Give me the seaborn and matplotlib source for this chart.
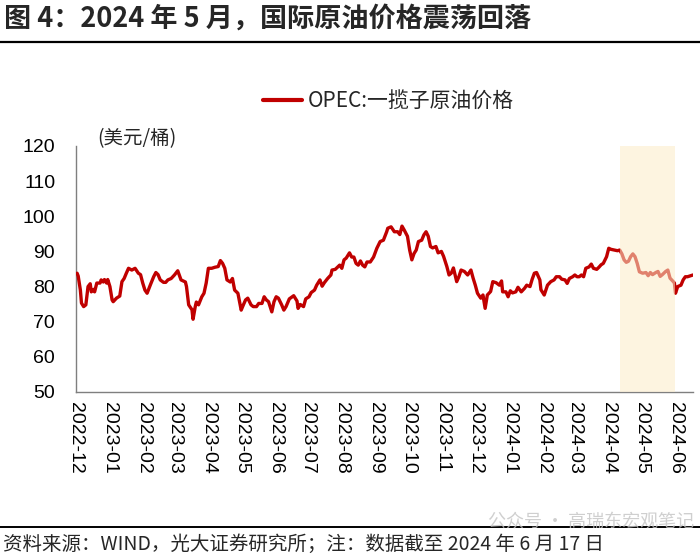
import matplotlib
matplotlib.use("Agg")
import matplotlib.pyplot as plt
from matplotlib.lines import Line2D
import seaborn as sns
import pandas as pd

# ---------------- data ----------------
dates = [
    "2022-12-02", "2022-12-03", "2022-12-05", "2022-12-06", "2022-12-08", "2022-12-10",
    "2022-12-12", "2022-12-14", "2022-12-15", "2022-12-17", "2022-12-18", "2022-12-20",
    "2022-12-23", "2022-12-24", "2022-12-26", "2022-12-27", "2022-12-29", "2022-12-30",
    "2023-01-01", "2023-01-03", "2023-01-04", "2023-01-07", "2023-01-10", "2023-01-12",
    "2023-01-14", "2023-01-16", "2023-01-18", "2023-01-21", "2023-01-24", "2023-01-27",
    "2023-01-29", "2023-01-31", "2023-02-02", "2023-02-04", "2023-02-07", "2023-02-10",
    "2023-02-12", "2023-02-14", "2023-02-16", "2023-02-19", "2023-02-21", "2023-02-23",
    "2023-02-26", "2023-03-01", "2023-03-04", "2023-03-07", "2023-03-11", "2023-03-12",
    "2023-03-14", "2023-03-17", "2023-03-18", "2023-03-20", "2023-03-21", "2023-03-23",
    "2023-03-26", "2023-03-28", "2023-03-30", "2023-04-01", "2023-04-04", "2023-04-07",
    "2023-04-10", "2023-04-12", "2023-04-14", "2023-04-16", "2023-04-18", "2023-04-21",
    "2023-04-23", "2023-04-25", "2023-04-28", "2023-05-01", "2023-05-03", "2023-05-05",
    "2023-05-07", "2023-05-10", "2023-05-12", "2023-05-15", "2023-05-17", "2023-05-20",
    "2023-05-22", "2023-05-24", "2023-05-26", "2023-05-29", "2023-05-31", "2023-06-02",
    "2023-06-04", "2023-06-07", "2023-06-09", "2023-06-11", "2023-06-14", "2023-06-18",
    "2023-06-21", "2023-06-22", "2023-06-24", "2023-06-27", "2023-06-29", "2023-07-02",
    "2023-07-04", "2023-07-07", "2023-07-09", "2023-07-12", "2023-07-14", "2023-07-16",
    "2023-07-19", "2023-07-22", "2023-07-23", "2023-07-26", "2023-07-28", "2023-07-30",
    "2023-08-01", "2023-08-03", "2023-08-05", "2023-08-08", "2023-08-10", "2023-08-12",
    "2023-08-14", "2023-08-16", "2023-08-18", "2023-08-20", "2023-08-22", "2023-08-24",
    "2023-08-27", "2023-08-30", "2023-09-02", "2023-09-05", "2023-09-08", "2023-09-11",
    "2023-09-12", "2023-09-15", "2023-09-18", "2023-09-21", "2023-09-23", "2023-09-25",
    "2023-09-27", "2023-09-30", "2023-10-02", "2023-10-04", "2023-10-06", "2023-10-08",
    "2023-10-10", "2023-10-13", "2023-10-15", "2023-10-17", "2023-10-19", "2023-10-21",
    "2023-10-23", "2023-10-26", "2023-10-28", "2023-10-31", "2023-11-02", "2023-11-05",
    "2023-11-07", "2023-11-09", "2023-11-11", "2023-11-14", "2023-11-16", "2023-11-18",
    "2023-11-21", "2023-11-24", "2023-11-27", "2023-11-29", "2023-12-01", "2023-12-03",
    "2023-12-06", "2023-12-08", "2023-12-10", "2023-12-12", "2023-12-15", "2023-12-17",
    "2023-12-20", "2023-12-23", "2023-12-25", "2023-12-26", "2023-12-29", "2023-12-31",
    "2024-01-02", "2024-01-04", "2024-01-07", "2024-01-09", "2024-01-12", "2024-01-15",
    "2024-01-17", "2024-01-20", "2024-01-22", "2024-01-24", "2024-01-26", "2024-01-29",
    "2024-01-30", "2024-02-02", "2024-02-05", "2024-02-08", "2024-02-11", "2024-02-13",
    "2024-02-16", "2024-02-18", "2024-02-21", "2024-02-23", "2024-02-25", "2024-02-28",
    "2024-03-01", "2024-03-03", "2024-03-05", "2024-03-07", "2024-03-09", "2024-03-11",
    "2024-03-14", "2024-03-16", "2024-03-18", "2024-03-21", "2024-03-23", "2024-03-25",
    "2024-03-27", "2024-03-30", "2024-04-01", "2024-04-03", "2024-04-06", "2024-04-09",
    "2024-04-11", "2024-04-13", "2024-04-15", "2024-04-17", "2024-04-19", "2024-04-21",
    "2024-04-23", "2024-04-25", "2024-04-27", "2024-04-29", "2024-05-02", "2024-05-05",
    "2024-05-07", "2024-05-09", "2024-05-11", "2024-05-14", "2024-05-16", "2024-05-18",
    "2024-05-20", "2024-05-23", "2024-05-25", "2024-05-27", "2024-05-30", "2024-05-31",
    "2024-06-01", "2024-06-03", "2024-06-06", "2024-06-08", "2024-06-10", "2024-06-12",
    "2024-06-15", "2024-06-17",
]

opec_basket = [
    83.8, 83.0, 79.0, 75.3, 74.3, 74.8,
    80.0, 80.8, 78.5, 79.2, 78.5, 81.0,
    81.0, 81.9, 81.3, 82.0, 81.0, 82.0,
    80.0, 76.2, 75.7, 76.7, 77.3, 81.4,
    82.3, 83.8, 85.2, 84.7, 85.2, 83.8,
    83.4, 81.0, 79.0, 78.1, 80.5, 82.8,
    84.0, 83.4, 81.9, 81.2, 81.2, 81.9,
    82.3, 83.3, 84.5, 81.9, 81.3, 80.0,
    74.8, 73.4, 70.7, 74.3, 75.6, 74.8,
    77.1, 78.1, 81.0, 85.2, 85.2, 85.5,
    85.7, 87.4, 86.6, 85.2, 81.9, 81.3,
    82.3, 79.0, 78.1, 73.3, 74.8, 76.2,
    76.7, 74.8, 74.3, 74.3, 75.2, 75.2,
    77.1, 76.2, 75.7, 72.8, 75.7, 77.1,
    76.7, 74.8, 73.3, 74.3, 76.5, 77.4,
    75.9, 73.8, 74.9, 74.3, 76.5, 77.1,
    78.3, 79.0, 80.4, 81.9, 80.1, 81.1,
    82.3, 83.3, 84.7, 84.9, 85.5, 86.1,
    85.2, 87.6, 88.1, 89.6, 88.4, 88.4,
    86.6, 86.1, 87.3, 86.1, 85.6, 87.0,
    87.0, 88.4, 90.9, 92.8, 93.2, 95.6,
    96.6, 97.0, 95.6, 95.6, 94.8, 97.2,
    96.1, 94.3, 90.4, 87.6, 89.4, 90.4,
    92.8, 93.2, 94.7, 95.6, 94.3, 91.4,
    91.0, 91.4, 89.6, 90.0, 88.6, 85.7,
    83.3, 83.8, 85.3, 81.4, 82.8, 84.7,
    84.3, 83.3, 84.7, 82.4, 80.4, 78.1,
    76.7, 77.6, 73.8, 77.6, 78.6, 81.4,
    81.1, 80.4, 81.6, 78.5, 78.5, 77.1,
    78.8, 78.2, 78.5, 79.8, 78.5, 79.5,
    80.4, 80.0, 82.1, 83.8, 84.0, 81.9,
    79.1, 77.6, 80.4, 81.4, 81.9, 82.8,
    82.8, 82.1, 81.9, 80.9, 82.3, 82.8,
    83.3, 82.8, 82.8, 83.3, 82.8, 85.2,
    85.6, 86.4, 85.2, 84.9, 85.5, 86.2,
    86.6, 88.5, 90.9, 90.6, 90.4, 90.2,
    90.4, 89.3, 87.6, 86.9, 87.2, 88.5,
    89.3, 88.5, 86.6, 84.2, 83.8, 84.0,
    83.1, 84.0, 83.4, 84.0, 84.3, 82.9,
    83.4, 84.3, 84.7, 82.4, 81.4, 81.0,
    78.1, 80.0, 80.4, 81.9, 82.8, 82.8,
    83.1, 83.3,
]

tick_months = ["2022-12", "2023-01", "2023-02", "2023-03", "2023-04", "2023-05",
               "2023-06", "2023-07", "2023-08", "2023-09", "2023-10", "2023-11",
               "2023-12", "2024-01", "2024-02", "2024-03", "2024-04", "2024-05",
               "2024-06"]
y_ticks = [50, 60, 70, 80, 90, 100, 110, 120]
x_range = ["2022-12-01", "2024-06-17"]
shade_range = ["2024-04-11", "2024-06-01"]

series_label = "OPEC:一揽子原油价格"
title = "图 4：2024 年 5 月，国际原油价格震荡回落"
unit = "(美元/桶)"
source = "资料来源：WIND，光大证券研究所；注：数据截至 2024 年 6 月 17 日"
watermark = "公众号 · 高瑞东宏观笔记"

# ---------------- drawing ----------------
sns.set_theme(style="white")
plt.rcParams["font.family"] = ["Noto Sans CJK SC", "DejaVu Sans"]
plt.rcParams["axes.unicode_minus"] = False

W, H = 700, 557
fig = plt.figure(figsize=(W / 100, H / 100), dpi=100)
fig.patch.set_facecolor("white")
ax = fig.add_axes([76 / W, 1 - 392 / H, 617 / W, 246 / H])
ax.set_facecolor("white")

df = pd.DataFrame({"date": pd.to_datetime(dates), "price": opec_basket})
sns.lineplot(data=df, x="date", y="price", ax=ax, color="#C00000",
             linewidth=2.4, label=series_label, zorder=3)

ax.axvspan(pd.Timestamp(shade_range[0]), pd.Timestamp(shade_range[1]),
           color=(252 / 255, 236 / 255, 200 / 255), alpha=0.55, lw=0, zorder=5)

ax.set_xlim(pd.Timestamp(x_range[0]), pd.Timestamp(x_range[1]))
ax.set_ylim(y_ticks[0], y_ticks[-1])
ax.set_yticks(y_ticks)
ax.set_xticks(pd.to_datetime([m + "-01" for m in tick_months]))
ax.set_xticklabels(tick_months, rotation=-90, family=["Liberation Sans", "DejaVu Sans"])
for t in ax.get_yticklabels():
    t.set_family(["Liberation Sans", "DejaVu Sans"])
ax.set_xlabel("")
ax.set_ylabel("")

for s in ["top", "right"]:
    ax.spines[s].set_visible(False)
for s in ["left", "bottom"]:
    ax.spines[s].set_color("#7f7f7f")
    ax.spines[s].set_linewidth(1.0)
ax.tick_params(axis="both", direction="in", length=4, width=1, color="#7f7f7f",
               labelsize=14, labelcolor="black")
ax.tick_params(axis="y", pad=15)
ax.tick_params(axis="x", pad=7)
ax.grid(False)

leg = ax.legend(loc="center", bbox_to_anchor=(388 / W, 1 - 101 / H),
                bbox_transform=fig.transFigure, frameon=False, fontsize=15,
                handlelength=1.9, handletextpad=0.25)
for ln in leg.get_lines():
    ln.set_linewidth(3)

fig.text(97 / W, 1 - 139 / H, unit, ha="left", va="center", fontsize=14)
fig.text(4 / W, 1 - 19 / H, title, ha="left", va="center", fontsize=19.5,
         fontweight="bold")
fig.add_artist(Line2D([0, 1], [1 - 42 / H] * 2, color="black", lw=1.6,
                      transform=fig.transFigure))
fig.add_artist(Line2D([0, 1], [1 - 527 / H] * 2, color="black", lw=1.4,
                      transform=fig.transFigure))
fig.text(694 / W, 1 - 522 / H, watermark, ha="right", va="center", fontsize=13,
         color="#c4c4c4", alpha=0.8, zorder=10)
fig.text(3 / W, 1 - 544 / H, source, ha="left", va="center", fontsize=14)

fig.savefig("out.png", dpi=100, facecolor="white")
